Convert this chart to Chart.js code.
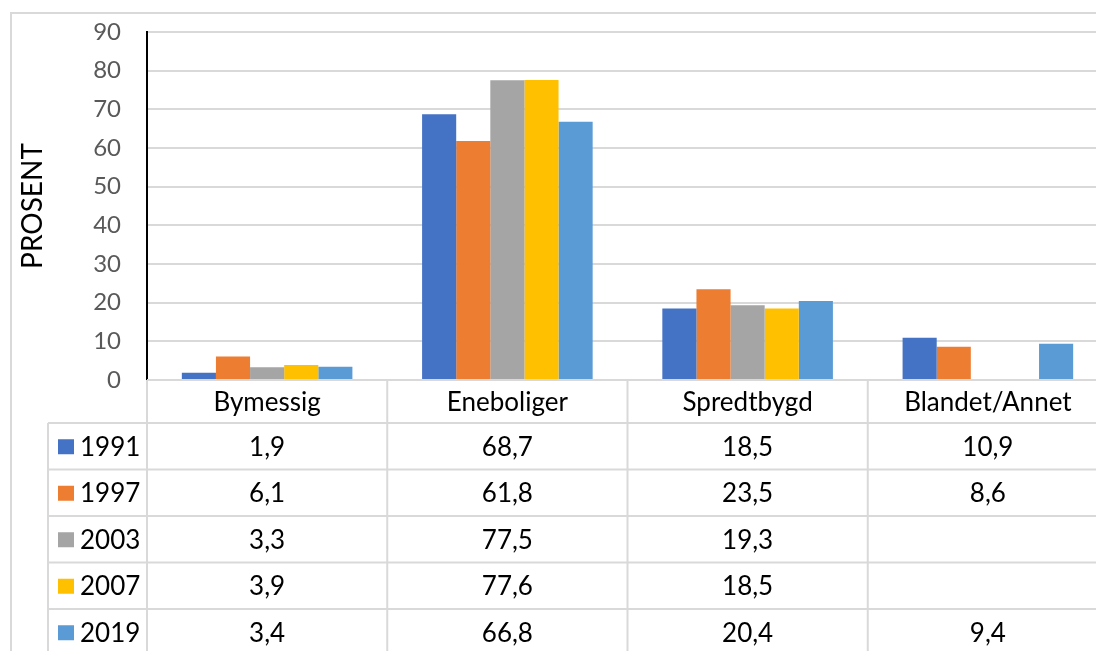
<!DOCTYPE html>
<html>
<head>
<meta charset="utf-8">
<script src="https://cdn.jsdelivr.net/npm/chart.js@4.4.1/dist/chart.umd.min.js"></script>
<style>
  html, body { margin: 0; padding: 0; background: #ffffff; overflow: hidden; width: 1096px; height: 651px; }
  canvas { display: block; }
</style>
</head>
<body>
<canvas id="c" width="1120" height="651"></canvas>
<script>
// ---- data ----
const categories = ['Bymessig', 'Eneboliger', 'Spredtbygd', 'Blandet/Annet'];
const years = ['1991', '1997', '2003', '2007', '2019'];
const s1991 = [1.9, 68.7, 18.5, 10.9];
const s1997 = [6.1, 61.8, 23.5, 8.6];
const s2003 = [3.3, 77.5, 19.3, null];
const s2007 = [3.9, 77.6, 18.5, null];
const s2019 = [3.4, 66.8, 20.4, 9.4];
const yTicks = [0, 10, 20, 30, 40, 50, 60, 70, 80, 90];
const yTitle = 'PROSENT';

const seriesValues = [s1991, s1997, s2003, s2007, s2019];
const colors = ['#4472C4', '#ED7D31', '#A5A5A5', '#FFC000', '#5B9BD5'];
const FONT = 'Lato, "Open Sans", sans-serif';
const GRID = '#d9d9d9';

function fmt(v) { return v === null || v === undefined ? '' : v.toFixed(1).replace('.', ','); }

const framePlugin = {
  id: 'frame',
  beforeDraw(chart) {
    const ctx = chart.ctx;
    ctx.save();
    ctx.fillStyle = '#ffffff';
    ctx.fillRect(0, 0, chart.width, chart.height);
    ctx.strokeStyle = GRID;
    ctx.lineWidth = 2;
    ctx.strokeRect(11, 13, chart.width + 50, chart.height + 50);
    ctx.restore();
  }
};

const tablePlugin = {
  id: 'dataTable',
  afterDraw(chart) {
    const ctx = chart.ctx;
    const area = chart.chartArea;
    const xs = chart.scales.x;
    const n = categories.length;
    const catW = (area.right - area.left) / n;
    const top = area.bottom;
    const headerH = 43;
    const rowH = 46.5;
    const legendLeft = 48;
    const W = chart.width, H = chart.height;
    ctx.save();
    ctx.strokeStyle = GRID;
    ctx.lineWidth = 2;
    ctx.beginPath();
    ctx.moveTo(area.left, top); ctx.lineTo(W, top);
    for (let i = 0; i <= years.length; i++) {
      const y = top + headerH + i * rowH;
      ctx.moveTo(legendLeft, y); ctx.lineTo(W, y);
    }
    ctx.moveTo(area.left, top); ctx.lineTo(area.left, H);
    for (let i = 1; i <= n; i++) {
      const x = area.left + i * catW;
      ctx.moveTo(x, top); ctx.lineTo(x, H);
    }
    ctx.moveTo(legendLeft, top + headerH); ctx.lineTo(legendLeft, H);
    ctx.stroke();

    ctx.fillStyle = '#000000';
    ctx.font = '26px ' + FONT;
    ctx.textAlign = 'center';
    ctx.textBaseline = 'middle';
    categories.forEach((c, i) => {
      ctx.fillText(c, xs.getPixelForValue(i), top + headerH / 2 + 1);
    });
    years.forEach((yr, r) => {
      const cy = top + headerH + r * rowH + rowH / 2 + 1;
      ctx.fillStyle = colors[r];
      ctx.fillRect(58, cy - 8, 16, 15);
      ctx.fillStyle = '#000000';
      ctx.textAlign = 'left';
      ctx.fillText(yr, 80, cy);
      ctx.textAlign = 'center';
      seriesValues[r].forEach((v, i) => {
        ctx.fillText(fmt(v), xs.getPixelForValue(i), cy);
      });
    });
    ctx.restore();
  }
};

new Chart(document.getElementById('c'), {
  type: 'bar',
  data: {
    labels: categories,
    datasets: years.map((yr, i) => ({
      label: yr,
      data: seriesValues[i],
      backgroundColor: colors[i],
      borderWidth: 0,
      categoryPercentage: 0.71,
      barPercentage: 1.0
    }))
  },
  options: {
    responsive: false,
    animation: false,
    events: [],
    layout: { padding: { left: 0, right: 12, top: 32, bottom: 271 } },
    plugins: { legend: { display: false }, tooltip: { enabled: false } },
    scales: {
      x: { display: false },
      y: {
        min: 0, max: 90,
        afterBuildTicks(scale) { scale.ticks = yTicks.map(v => ({ value: v })); },
        afterFit(scale) {
          scale.width = 147;
          scale.paddingTop = 0;
          scale.paddingBottom = 0;
        },
        border: { display: true, color: '#000000', width: 2 },
        grid: { color: GRID, lineWidth: 2, drawTicks: false },
        ticks: { color: '#595959', font: { family: FONT, size: 24 }, padding: 26 },
        title: {
          display: true, text: yTitle, color: '#000000',
          font: { family: FONT, size: 28, lineHeight: 1 },
          padding: { top: 19, bottom: 0 }
        }
      }
    }
  },
  plugins: [framePlugin, tablePlugin]
});
</script>
</body>
</html>
